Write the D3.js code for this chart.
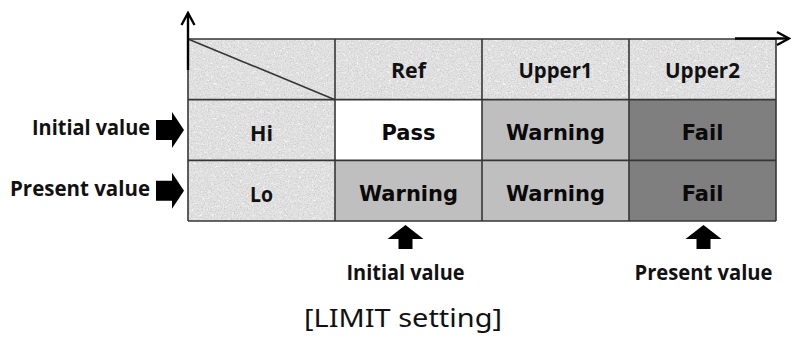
<!DOCTYPE html>
<html>
<head>
<meta charset="utf-8">
<script src="https://cdn.jsdelivr.net/npm/d3@7/dist/d3.min.js"></script>
<style>
  html, body { margin: 0; padding: 0; background: #ffffff; }
  svg { display: block; }
</style>
</head>
<body>
<svg id="chart" width="791" height="338"></svg>
<script>
// ---- data ----
const columns = ["corner", "Ref", "Upper1", "Upper2"];
const columnLabels = ["", "Ref", "Upper1", "Upper2"];
const rows = ["Hi", "Lo"];
const rowLabels = ["Initial value", "Present value"];
const results = [
  ["Pass", "Warning", "Fail"],
  ["Warning", "Warning", "Fail"]
];
const markerColumns = ["Ref", "Upper2"];
const markerLabels = ["Initial value", "Present value"];
const caption = "[LIMIT setting]";

// ---- styles ----
const statusFill = { Pass: "#ffffff", Warning: "#bfbfbf", Fail: "#7f7f7f" };
const gridColor = "#363636";
const labelFont = "'Open Sans', Lato, sans-serif";
const cellFont = "'DejaVu Sans', sans-serif";
const textWidths = { "Ref": 35, "Upper1": 74, "Upper2": 75, "Hi": 23, "Lo": 23 };

const svg = d3.select("#chart");

// texture filters (granite-like speckles: dark and light flecks)
const defs = svg.append("defs");
function grain(id, freq, seed, gray, a, b) {
  const f = defs.append("filter").attr("id", id)
    .attr("x", 0).attr("y", 0).attr("width", "100%").attr("height", "100%");
  f.append("feTurbulence").attr("type", "fractalNoise")
    .attr("baseFrequency", freq).attr("numOctaves", 3).attr("seed", seed).attr("result", "noise");
  f.append("feColorMatrix").attr("in", "noise").attr("type", "matrix")
    .attr("values", `0 0 0 0 ${gray}  0 0 0 0 ${gray}  0 0 0 0 ${gray}  ${a} 0 0 0 ${b}`)
    .attr("result", "speck");
  f.append("feComposite").attr("in", "speck").attr("in2", "SourceGraphic").attr("operator", "in");
}
grain("grainDark", 0.7, 7, 0.62, 3.2, -1.45);
grain("grainLight", 0.35, 11, 1.0, -3.0, 1.25);

const x = d3.scaleBand().domain(columns).range([188, 776]);
const y = d3.scaleBand().domain(["header"].concat(rows)).range([39, 221]);

// textured cells: header row + first column
const texCells = [];
columns.forEach(c => texCells.push({ c, r: "header" }));
rows.forEach(r => texCells.push({ c: "corner", r }));
const tex = svg.append("g");
tex.selectAll("rect.base").data(texCells).join("rect")
  .attr("class", "base")
  .attr("x", d => x(d.c)).attr("y", d => y(d.r))
  .attr("width", x.bandwidth()).attr("height", y.bandwidth())
  .attr("fill", "#e3e3e3");
["grainLight", "grainDark"].forEach(id => {
  tex.selectAll("rect." + id).data(texCells).join("rect")
    .attr("class", id)
    .attr("x", d => x(d.c)).attr("y", d => y(d.r))
    .attr("width", x.bandwidth()).attr("height", y.bandwidth())
    .attr("fill", "#000").attr("filter", `url(#${id})`);
});

// result cells
const cells = [];
rows.forEach((r, i) => results[i].forEach((v, j) => cells.push({ r, c: columns[j + 1], v })));
svg.append("g").selectAll("rect").data(cells).join("rect")
  .attr("x", d => x(d.c)).attr("y", d => y(d.r))
  .attr("width", x.bandwidth()).attr("height", y.bandwidth())
  .attr("fill", d => statusFill[d.v]);

// grid lines
const grid = svg.append("g").attr("stroke", gridColor).attr("stroke-width", 1.6).attr("fill", "none");
const xs = columns.map(c => x(c)).concat([x.range()[1]]);
const ys = y.domain().map(r => y(r)).concat([y.range()[1]]);
xs.forEach(v => grid.append("line").attr("x1", v).attr("x2", v).attr("y1", ys[0]).attr("y2", ys[ys.length - 1]));
ys.forEach(v => grid.append("line").attr("x1", xs[0]).attr("x2", xs[xs.length - 1]).attr("y1", v).attr("y2", v));
// diagonal in corner cell
grid.append("line")
  .attr("x1", x("corner")).attr("y1", y("header"))
  .attr("x2", x("corner") + x.bandwidth()).attr("y2", y("header") + y.bandwidth());

// axes arrows (open heads)
const ax = svg.append("g").attr("stroke", "#000").attr("stroke-width", 2.4).attr("fill", "none")
  .attr("stroke-linecap", "butt");
const x0 = x.range()[0], yTop = y.range()[0];
ax.append("line").attr("x1", x0).attr("x2", x0).attr("y1", 70).attr("y2", 13);
ax.append("path").attr("d", `M${x0 - 6.5},${25} L${x0},${13} L${x0 + 6.5},${25}`);
ax.append("line").attr("x1", 735).attr("x2", 789).attr("y1", yTop - 0.5).attr("y2", yTop - 0.5);
ax.append("path").attr("d", `M${777},${yTop - 7} L${789},${yTop - 0.5} L${777},${yTop + 6}`);

// header labels
const cy = r => y(r) + y.bandwidth() / 2;
const cx = c => x(c) + x.bandwidth() / 2;
function boldLabel(sel) {
  return sel.attr("font-family", labelFont).attr("font-weight", 700)
    .attr("font-size", 21).attr("fill", "#111");
}
boldLabel(svg.append("g").selectAll("text").data(columns.slice(1)).join("text"))
  .attr("x", cx).attr("y", cy("header") + 9)
  .attr("text-anchor", "middle")
  .attr("textLength", (d, i) => textWidths[columnLabels[i + 1]])
  .attr("lengthAdjust", "spacingAndGlyphs")
  .text((d, i) => columnLabels[i + 1]);

// row labels in first column
boldLabel(svg.append("g").selectAll("text").data(rows).join("text"))
  .attr("x", cx("corner")).attr("y", d => cy(d) + 11)
  .attr("text-anchor", "middle")
  .attr("textLength", d => textWidths[d]).attr("lengthAdjust", "spacingAndGlyphs")
  .text(d => d);

// result text
svg.append("g").selectAll("text").data(cells).join("text")
  .attr("x", d => cx(d.c)).attr("y", d => cy(d.r) + 10)
  .attr("text-anchor", "middle").attr("font-family", cellFont).attr("font-weight", 700)
  .attr("font-size", 21).attr("fill", "#0a0a0a")
  .text(d => d.v);

// left labels with right arrows
const leftWidths = [118, 140];
const left = svg.append("g");
rows.forEach((r, i) => {
  const c = cy(r);
  boldLabel(left.append("text")).attr("x", 150).attr("y", c + 5)
    .attr("text-anchor", "end")
    .attr("textLength", leftWidths[i]).attr("lengthAdjust", "spacingAndGlyphs")
    .text(rowLabels[i]);
  left.append("path").attr("fill", "#000")
    .attr("d", `M156,${c - 10} L172,${c - 10} L172,${c - 18} L184,${c} L172,${c + 18} L172,${c + 10} L156,${c + 10} Z`);
});

// bottom markers with up arrows
const bottomWidths = [118, 138];
const bottom = svg.append("g");
markerColumns.forEach((col, i) => {
  const m = cx(col) - 3 + i * 4;
  bottom.append("path").attr("fill", "#000")
    .attr("d", `M${m},225 L${m + 18},239 L${m + 7},239 L${m + 7},249 L${m - 7},249 L${m - 7},239 L${m - 18},239 Z`);
  boldLabel(bottom.append("text")).attr("x", m).attr("y", 280)
    .attr("text-anchor", "middle")
    .attr("textLength", bottomWidths[i]).attr("lengthAdjust", "spacingAndGlyphs")
    .text(markerLabels[i]);
});

// caption
svg.append("text").attr("x", 403).attr("y", 327)
  .attr("text-anchor", "middle").attr("font-family", "'Noto Sans', 'Open Sans', sans-serif")
  .attr("font-size", 26).attr("fill", "#111")
  .attr("textLength", 198).attr("lengthAdjust", "spacingAndGlyphs")
  .text(caption);
</script>
</body>
</html>
